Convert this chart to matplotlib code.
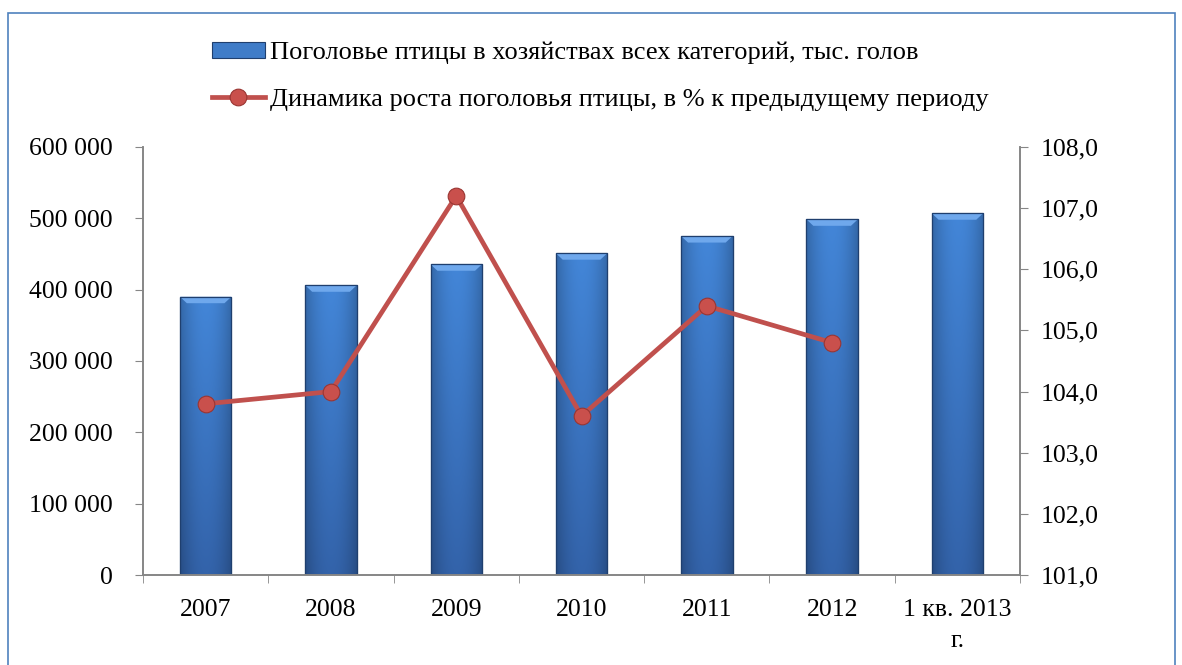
import matplotlib
matplotlib.use("Agg")
import matplotlib.pyplot as plt
import numpy as np
from matplotlib.patches import Polygon, Rectangle
from matplotlib.lines import Line2D
from matplotlib.ticker import FuncFormatter, FixedLocator

plt.rcParams["font.family"] = ["Liberation Serif", "DejaVu Serif"]

categories = ["2007", "2008", "2009", "2010", "2011", "2012", "1 кв. 2013\nг."]
heads = [390000, 406000, 435500, 451000, 475000, 498500, 507000]
growth = [103.8, 104.0, 107.2, 103.6, 105.4, 104.8]

bar_label = "Поголовье птицы в хозяйствах всех категорий, тыс. голов"
line_label = "Динамика роста поголовья птицы, в % к предыдущему периоду"

BAR_DARK = "#1F3F6E"
LINE_RED = "#C0504D"
AXIS_GRAY = "#868686"
FS = 18.5

fig = plt.figure(figsize=(11.82, 6.65), dpi=100)
ax = fig.add_axes([0.121, 0.1353, 0.742, 0.6437])
ax2 = ax.twinx()

x = np.arange(len(categories))
width = 0.41
bars = ax.bar(x, heads, width=width, color="#3A72BE", edgecolor=BAR_DARK,
              linewidth=0.8, zorder=2)

# shaded fill for each bar: darker edges, lighter middle, lighter top
cols = np.linspace(-1, 1, 60)
rows = np.linspace(0, 1, 100)[:, None]
shade = 1 - 0.22 * np.abs(cols) ** 2
base_top = np.array([0x43, 0x86, 0xD8]) / 255
base_bot = np.array([0x33, 0x63, 0xAA]) / 255
grad = (base_top[None, None, :] * (1 - rows[..., None])
        + base_bot[None, None, :] * rows[..., None])
grad = np.clip(grad * shade[None, :, None], 0, 1)

bev_x = 0.055
bev_y = 9000
for rect in bars:
    x0, w, h = rect.get_x(), rect.get_width(), rect.get_height()
    im = ax.imshow(grad, extent=(x0, x0 + w, 0, h), aspect="auto",
                   origin="upper", zorder=2.1)
    im.set_clip_path(rect)
    ax.add_patch(Polygon([(x0, h), (x0 + w, h), (x0 + w - bev_x, h - bev_y),
                          (x0 + bev_x, h - bev_y)], closed=True,
                         facecolor="#6FA8EC", edgecolor="none", zorder=2.2))
    ax.add_patch(Rectangle((x0, 0), w, h, fill=False, edgecolor=BAR_DARK,
                           linewidth=0.9, zorder=2.3))

ax.set_xlim(-0.5, len(categories) - 0.5)
ax.set_ylim(0, 600000)
ax.set_yticks(np.arange(0, 600001, 100000))
ax.yaxis.set_major_formatter(FuncFormatter(lambda v, p: f"{int(v):,}".replace(",", " ")))
ax.set_xticks(x)
ax.set_xticklabels(categories, linespacing=1.55)
ax.xaxis.set_minor_locator(FixedLocator(np.arange(-0.5, len(categories), 1.0)))
ax.tick_params(axis="x", which="major", length=0, pad=17, labelsize=FS)
ax.tick_params(axis="x", which="minor", length=6, color=AXIS_GRAY, direction="out")
ax.tick_params(axis="y", length=6, color=AXIS_GRAY, direction="out", labelsize=FS, pad=16)

ax2.plot(x[:len(growth)], growth, color=LINE_RED, linewidth=3.4,
         marker="o", markersize=12, markerfacecolor="#C9504C",
         markeredgecolor="#9A3532", markeredgewidth=0.8, zorder=5)
ax2.set_ylim(101, 108)
ax2.set_yticks(np.arange(101, 108.5, 1))
ax2.yaxis.set_major_formatter(FuncFormatter(lambda v, p: f"{v:.1f}".replace(".", ",")))
ax2.tick_params(axis="y", length=6, color=AXIS_GRAY, direction="out", labelsize=FS, pad=9)

for a in (ax, ax2):
    a.spines["top"].set_visible(False)
    for s in ("left", "right", "bottom"):
        a.spines[s].set_color(AXIS_GRAY)
        a.spines[s].set_linewidth(1.2)
ax2.set_zorder(ax.get_zorder() + 1)
ax2.patch.set_visible(False)

handles = [
    Rectangle((0, 0), 1, 1, facecolor="#3F7CC8", edgecolor=BAR_DARK, linewidth=0.8),
    Line2D([], [], color=LINE_RED, linewidth=3.4, marker="o", markersize=12,
           markerfacecolor="#C9504C", markeredgecolor="#9A3532", markeredgewidth=0.8),
]
fig.legend(handles, [bar_label, line_label], loc="upper left",
           bbox_to_anchor=(212 / 1182, 1 - 42 / 665), frameon=False, fontsize=19,
           handlelength=2.0, handleheight=0.57, handletextpad=0.2,
           labelspacing=0.9, borderpad=0, borderaxespad=0)

# outer chart border
fig.patches.append(Rectangle((8 / 1182, -0.05), (1175 - 8) / 1182, 1 - 13 / 665 + 0.05,
                             transform=fig.transFigure, fill=False,
                             edgecolor="#4F81BD", linewidth=1.2))

fig.savefig("out.png", dpi=100, facecolor="white")
